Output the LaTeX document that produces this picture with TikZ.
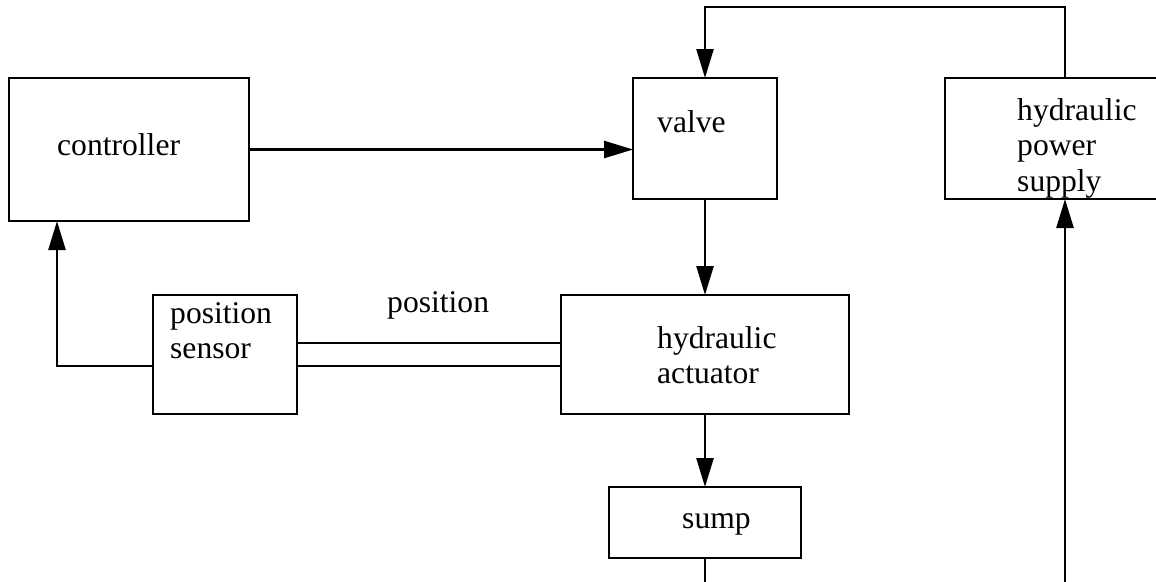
\documentclass[tikz,border=0pt]{standalone}
\usepackage{fontspec}
\setmainfont{Liberation Serif}
\usepackage{tikz}
\usetikzlibrary{
  arrows.meta,
  positioning
}
\definecolor{inkblack}{RGB}{0,0,0}
\tikzset{
  blk/.style={draw=inkblack,line width=2.5pt,fill=white,
    inner sep=0pt,outer sep=0pt},
  txt/.style={font=\fontsize{31.6}{35.5}\selectfont,align=left,
    text=inkblack,inner sep=0pt},
  flow/.style={-{Triangle[length=29pt,width=17pt]},line width=2.5pt,draw=inkblack},
  link/.style={line width=2.5pt,draw=inkblack}
}

\begin{document}
\begin{tikzpicture}[x=1pt,y=-1pt,node distance=96pt and 264pt]
  \useasboundingbox (0,0) rectangle (1156,581);
  \clip (0,0) rectangle (1156,581);
  \node[blk,minimum width=240pt,minimum height=143pt] (controller) at (129,149.5) {};
  \node[blk,minimum width=144pt,minimum height=121pt] (valve) at (705,138.5) {};
  \node[blk,minimum width=240pt,minimum height=121pt] (supply) at (1065,138.5) {};
  \node[blk,minimum width=288pt,minimum height=119pt,below=of valve] (actuator) {};
  \node[blk,minimum width=144pt,minimum height=119pt,left=of actuator] (sensor) {};
  \node[blk,minimum width=192pt,minimum height=71pt,below=73pt of actuator] (sump) {};
  % texts inside the boxes (base = last line)
  \node[txt,anchor=base west] (controllertext) at ([xshift=48pt,yshift=-77pt]controller.north west) {controller};
  \node[txt,anchor=base west] (valvetext) at ([xshift=24pt,yshift=-54pt]valve.north west) {valve};
  \node[txt,anchor=base west] (supplytext) at ([xshift=72pt,yshift=-113pt]supply.north west) {hydraulic\\power\\supply};
  \node[txt,anchor=base west] (sensortext) at ([xshift=17pt,yshift=-63.5pt]sensor.north west) {position\\sensor};
  \node[txt,anchor=base west] (actuatortext) at ([xshift=96pt,yshift=-88.5pt]actuator.north west) {hydraulic\\actuator};
  \node[txt,anchor=base west] (sumptext) at ([xshift=73pt,yshift=-41pt]sump.north west) {sump};
  \node[txt,anchor=base west] (poslabel) at (387,312) {position};
  % free ends
  \coordinate (rail) at (1065,7);
  \coordinate (feed) at (1065,590);
  \coordinate (drain) at (705,590);
  \draw[flow] (controller.east) -- (controller.east -| valve.west);
  \draw[flow] (valve.south) -- (actuator.north);
  \draw[flow] (actuator.south) -- (sump.north);
  \draw[link] (sump.south) -- (drain);
  \draw[flow] (feed) -- (supply.south);
  \draw[flow] (supply.north) -- (rail) -| (valve.north);
  \draw[flow] ([yshift=-11.5pt]sensor.west) -| ([xshift=48pt]controller.south west);
  \draw[link] ([yshift=11.5pt]sensor.east) -- ([yshift=11.5pt]sensor.east -| actuator.west);
  \draw[link] ([yshift=-11.5pt]sensor.east) -- ([yshift=-11.5pt]sensor.east -| actuator.west);
\end{tikzpicture}
\end{document}
